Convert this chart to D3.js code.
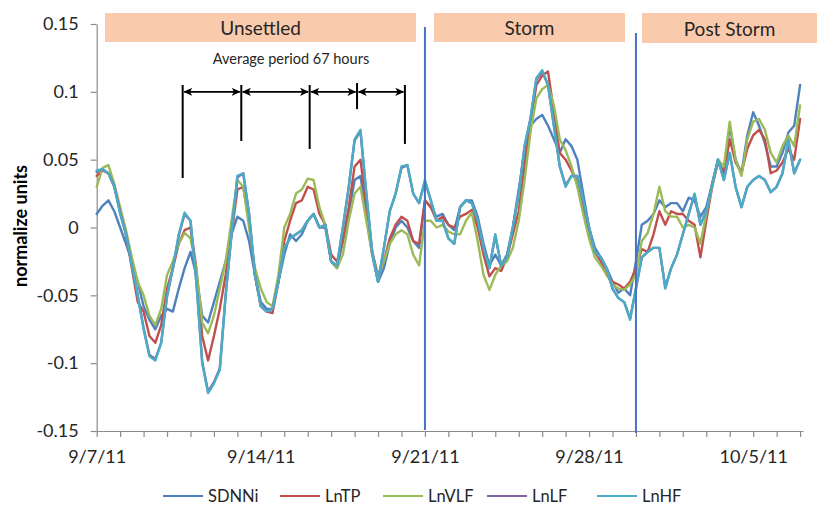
<!DOCTYPE html>
<html><head><meta charset="utf-8">
<script src="https://cdn.jsdelivr.net/npm/d3@7"></script>
<style>
body{margin:0;background:#fff}
svg{display:block}
text{font-family:Lato,"Open Sans",sans-serif}
</style>
</head><body>
<svg id="c" width="817" height="506"></svg>
<script>
// ---------- data ----------
const startDate = new Date(2011, 8, 7);
const stepHours = 6;
const seriesNames = ["SDNNi", "LnTP", "LnVLF", "LnLF", "LnHF"];
const seriesColors = ["#4F81BD", "#C0504D", "#9BBB59", "#8064A2", "#4BACC6"];

const SDNNi = [
 .010,.016,.020,.012,.000,-.012,-.025,-.040,-.058,-.068,
 -.075,-.065,-.060,-.062,-.045,-.030,-.018,-.035,-.065,-.070,
 -.055,-.040,-.025,-.005,.008,.005,-.010,-.035,-.055,-.060,
 -.060,-.040,-.020,-.005,-.010,-.005,.005,.010,.000,.000,
 -.025,-.030,-.010,.010,.035,.038,.010,-.020,-.040,-.030,
 -.012,.000,.005,.000,-.010,-.015,.020,.015,.008,.010,
 .002,-.002,.015,.020,.020,.008,-.012,-.028,-.020,-.028,
 -.020,.000,.028,.055,.075,.080,.083,.075,.065,.055,
 .065,.060,.050,.025,.000,-.015,-.022,-.030,-.040,-.048,
 -.045,-.050,-.025,.002,.005,.010,.020,.015,.018,.018,
 .012,.022,.020,.008,.015,.032,.050,.040,.075,.050,
 .040,.068,.085,.075,.062,.045,.045,.055,.070,.075,
 .105];
const LnTP = [
 .038,.042,.040,.030,.012,-.005,-.030,-.055,-.062,-.080,
 -.085,-.072,-.045,-.030,-.012,-.002,.000,-.030,-.080,-.098,
 -.080,-.060,-.035,-.005,.028,.030,.005,-.035,-.058,-.062,
 -.063,-.040,-.010,.005,.018,.020,.030,.028,.010,.002,
 -.020,-.025,-.010,.015,.045,.050,.015,-.018,-.035,-.025,
 -.008,.002,.008,.005,-.010,-.012,.020,.015,.005,.008,
 .002,.000,.008,.010,.013,.000,-.020,-.036,-.030,-.032,
 -.022,-.005,.012,.045,.075,.105,.112,.115,.085,.055,
 .050,.042,.033,.015,-.002,-.018,-.025,-.035,-.040,-.042,
 -.045,-.040,-.030,-.016,-.018,-.005,.012,.002,.012,.010,
 .010,.005,.002,-.022,.005,.030,.048,.040,.065,.048,
 .040,.058,.068,.072,.065,.040,.042,.048,.058,.050,
 .080];
const LnVLF = [
 .030,.044,.046,.032,.015,-.002,-.022,-.040,-.050,-.065,
 -.072,-.060,-.035,-.025,-.012,-.004,-.008,-.030,-.070,-.078,
 -.065,-.045,-.025,.005,.035,.030,.000,-.030,-.045,-.055,
 -.058,-.035,.000,.010,.025,.028,.036,.035,.015,.002,
 -.025,-.030,-.020,.005,.025,.030,.005,-.020,-.035,-.025,
 -.012,-.005,-.002,-.005,-.020,-.028,.005,.005,.000,.002,
 -.003,-.005,-.005,.005,.011,-.010,-.035,-.046,-.035,-.028,
 -.025,-.015,.005,.035,.070,.095,.102,.105,.090,.065,
 .057,.045,.030,.010,-.008,-.022,-.028,-.035,-.042,-.045,
 -.046,-.042,-.035,-.010,-.004,.010,.030,.012,.008,.008,
 .000,.002,.000,-.012,.010,.030,.050,.045,.078,.050,
 .038,.065,.078,.080,.072,.055,.048,.060,.068,.060,
 .090];
const LnLF = [
 .041,.043,.040,.031,.011,-.005,-.028,-.050,-.074,-.094,
 -.097,-.085,-.051,-.030,-.006,.010,.005,-.040,-.099,-.121,
 -.114,-.104,-.050,-.005,.037,.040,.010,-.035,-.058,-.062,
 -.060,-.040,-.015,-.008,-.005,-.002,.005,.010,.000,.002,
 -.025,-.028,.000,.030,.064,.071,.025,-.018,-.040,-.015,
 .012,.025,.044,.046,.025,.018,.034,.020,.005,.005,
 -.008,-.012,.015,.020,.018,.005,-.015,-.030,-.006,-.028,
 -.022,.000,.025,.060,.080,.109,.115,.105,.075,.045,
 .031,.038,.038,.020,.000,-.018,-.022,-.030,-.045,-.052,
 -.055,-.067,-.045,-.022,-.018,-.015,-.015,-.044,-.030,-.020,
 -.005,.010,.024,.002,.012,.032,.050,.035,.055,.030,
 .015,.030,.035,.038,.035,.026,.030,.040,.064,.040,
 .050];
const LnHF = [
 .042,.043,.040,.030,.010,-.005,-.028,-.050,-.075,-.095,
 -.098,-.085,-.050,-.030,-.005,.011,.005,-.040,-.100,-.122,
 -.115,-.105,-.050,-.005,.038,.040,.010,-.035,-.058,-.062,
 -.060,-.040,-.015,-.008,-.005,-.002,.005,.010,.000,.002,
 -.025,-.028,.000,.030,.065,.072,.025,-.018,-.040,-.015,
 .012,.025,.045,.046,.025,.018,.035,.020,.005,.005,
 -.008,-.012,.015,.020,.018,.005,-.015,-.030,-.005,-.028,
 -.022,.000,.025,.060,.080,.110,.116,.105,.075,.045,
 .030,.038,.038,.020,.000,-.018,-.022,-.030,-.045,-.052,
 -.055,-.068,-.045,-.022,-.018,-.015,-.015,-.045,-.030,-.020,
 -.005,.010,.025,.002,.012,.032,.050,.035,.055,.030,
 .015,.030,.035,.038,.035,.026,.030,.040,.065,.040,
 .050];
const seriesValues = [SDNNi, LnTP, LnVLF, LnLF, LnHF];

const yTicks = [-0.15, -0.1, -0.05, 0, 0.05, 0.1, 0.15];
const xLabelDates = ["2011-09-07", "2011-09-14", "2011-09-21", "2011-09-28", "2011-10-05"];
const phaseNames = ["Unsettled", "Storm", "Post Storm"];
const boundaryDates = ["2011-09-21", "2011-09-30"];
const periodHours = [88, 148, 218, 266.5, 315.5];      // hours after 9/7 00:00
const periodLowValues = [0.0365, 0.0638, 0.0579, 0.0873, 0.0616];
const periodText = "Average period 67 hours";

// ---------- layout ----------
const W = 817, H = 506;
const svg = d3.select("#c");
const parseD = s => { const [a,b,c] = s.split("-").map(Number); return new Date(a, b-1, c); };
const x = d3.scaleTime().domain([startDate, new Date(2011, 9, 7, 3)]).range([96.7, 803]);
const y = d3.scaleLinear().domain([-0.15, 0.15]).range([431, 24]);
const timeAt = i => new Date(startDate.getTime() + i * stepHours * 3600e3);

// phase bands
const bandBoxes = [[105, 416, 13, 42], [434, 625, 13, 42], [642, 817, 13, 43]];
const bands = svg.append("g");
phaseNames.forEach((n, i) => {
  const [x0, x1, y0, y1] = bandBoxes[i];
  bands.append("rect").attr("x", x0).attr("y", y0).attr("width", x1 - x0).attr("height", y1 - y0)
    .attr("fill", "#F9CBAC");
  bands.append("text").attr("x", (x0 + x1) / 2).attr("y", (y0 + y1) / 2)
    .attr("text-anchor", "middle").attr("dominant-baseline", "central")
    .attr("font-size", 19).attr("fill", "#262626").text(n);
});

// axes
const axisColor = "#8C8C8C";
const gy = svg.append("g").attr("transform", `translate(${x(startDate)},0)`)
  .call(d3.axisLeft(y).tickValues(yTicks).tickSize(6).tickSizeOuter(0).tickPadding(12).tickFormat(d => String(d)));
const labelSet = new Set(xLabelDates.map(s => +parseD(s)));
const fmt = d3.timeFormat("%-m/%-d/%y");
const gx = svg.append("g").attr("transform", `translate(0,${y(-0.15)})`)
  .call(d3.axisBottom(x).ticks(d3.timeDay.every(1)).tickSize(6).tickSizeOuter(0).tickPadding(13)
    .tickFormat(d => labelSet.has(+d) ? fmt(d) : ""));
[gx, gy].forEach(g => {
  g.select(".domain").attr("stroke", axisColor).attr("stroke-width", 1.2);
  g.selectAll(".tick line").attr("stroke", axisColor).attr("stroke-width", 1.2);
  g.selectAll(".tick text").attr("font-size", 18).attr("fill", "#262626").attr("font-family", "Lato,'Open Sans',sans-serif");
});

// y label
svg.append("text").attr("transform", "translate(20,226) rotate(-90)")
  .attr("text-anchor", "middle").attr("dominant-baseline", "central")
  .attr("font-size", 18).attr("font-weight", "bold").attr("fill", "#000").text("normalize units");

// series lines
const line = d3.line().x((d, i) => x(timeAt(i))).y(d => y(d));
seriesValues.forEach((vals, k) => {
  svg.append("path").datum(vals).attr("d", line).attr("fill", "none")
    .attr("stroke", seriesColors[k]).attr("stroke-width", 2.4)
    .attr("stroke-linejoin", "round").attr("stroke-linecap", "round");
});

// phase boundaries
const bTop = [27, 33], bBot = [430, 433];
boundaryDates.forEach((s, i) => {
  svg.append("line").attr("x1", x(parseD(s))).attr("x2", x(parseD(s)))
    .attr("y1", bTop[i]).attr("y2", bBot[i]).attr("stroke", "#4472C4").attr("stroke-width", 2);
});

// period annotation
const defs = svg.append("defs");
defs.append("marker").attr("id", "ah").attr("viewBox", "0 0 10 10").attr("refX", 9).attr("refY", 5)
  .attr("markerWidth", 9).attr("markerHeight", 9).attr("markerUnits", "userSpaceOnUse").attr("orient", "auto-start-reverse")
  .append("path").attr("d", "M0,0.5 L10,5 L0,9.5 L2.5,5 Z").attr("fill", "#000");
const tHour = h => new Date(startDate.getTime() + h * 3600e3);
const ann = svg.append("g");
const arrowY = y(0.1);
periodHours.forEach((h, i) => {
  const px = x(tHour(h));
  ann.append("line").attr("x1", px).attr("x2", px).attr("y1", i === 3 ? 83 : 85).attr("y2", y(periodLowValues[i]))
    .attr("stroke", "#000").attr("stroke-width", 2);
  if (i < periodHours.length - 1) {
    const nx = x(tHour(periodHours[i + 1]));
    ann.append("line").attr("x1", px + 1.5).attr("x2", nx - 1.5).attr("y1", arrowY).attr("y2", arrowY)
      .attr("stroke", "#000").attr("stroke-width", 1.6)
      .attr("marker-start", "url(#ah)").attr("marker-end", "url(#ah)");
  }
});
ann.append("text").attr("x", 291).attr("y", 58).attr("text-anchor", "middle").attr("dominant-baseline", "central")
  .attr("font-size", 14.5).attr("fill", "#262626").text(periodText);

// legend
const legX = [163, 280, 383, 487, 597];
const leg = svg.append("g");
seriesNames.forEach((n, i) => {
  leg.append("line").attr("x1", legX[i]).attr("x2", legX[i] + 40).attr("y1", 496).attr("y2", 496)
    .attr("stroke", seriesColors[i]).attr("stroke-width", 2);
  leg.append("text").attr("x", legX[i] + 45).attr("y", 496).attr("dominant-baseline", "central")
    .attr("font-size", 16.5).attr("fill", "#262626").text(n);
});
</script>
</body></html>
